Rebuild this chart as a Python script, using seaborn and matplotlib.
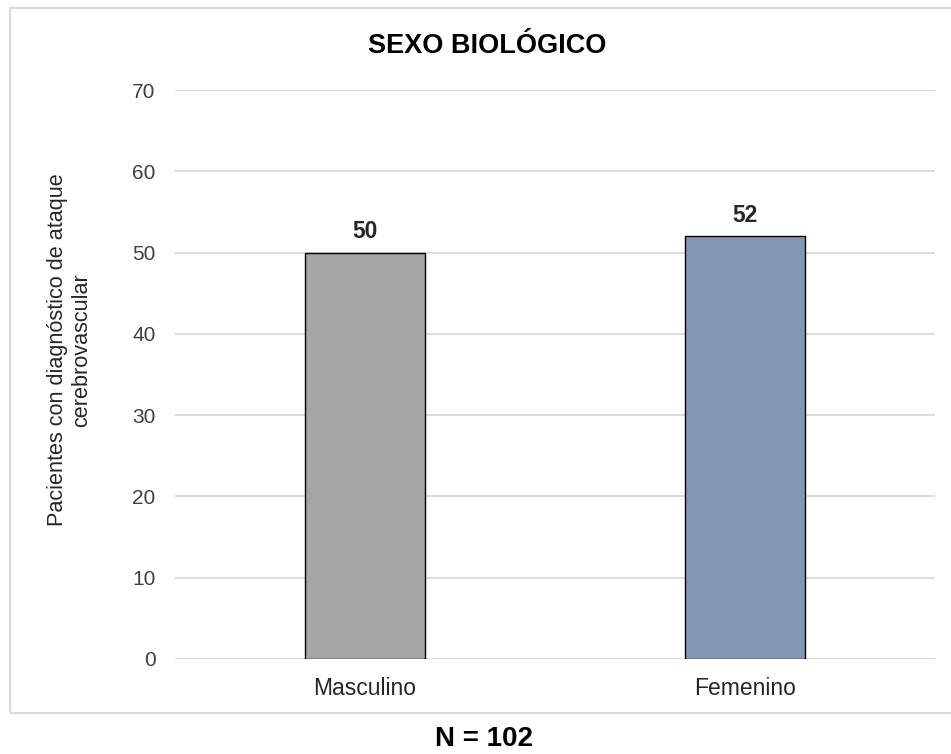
import matplotlib
matplotlib.use("Agg")
import matplotlib.pyplot as plt
from matplotlib.patches import Rectangle
import seaborn as sns
import pandas as pd

# Data
categories = ["Masculino", "Femenino"]
patients = [50, 52]
bar_colors = ["#A5A5A5", "#8497B0"]
y_ticks = [0, 10, 20, 30, 40, 50, 60, 70]
title = "SEXO BIOLÓGICO"
y_label = "Pacientes con diagnóstico de ataque\ncerebrovascular"
footer = "N = 102"

sns.set_theme(style="white")
plt.rcParams["font.family"] = ["Liberation Sans", "DejaVu Sans"]

W, H = 951, 754
fig = plt.figure(figsize=(W / 100, H / 100), dpi=100)
fig.patch.set_facecolor("white")

# chart frame
fig.add_artist(Rectangle((10 / W, 1 - 713 / H), 1.2, (713 - 8) / H,
                         transform=fig.transFigure, fill=False,
                         edgecolor="#D9D9D9", linewidth=1.5, zorder=0))

ax = fig.add_axes([175 / W, 1 - 659 / H, (935 - 175) / W, (659 - 90) / H])

df = pd.DataFrame({"sexo": categories, "n": patients})
sns.barplot(data=df, x="sexo", y="n", hue="sexo", palette=bar_colors,
            saturation=1, width=0.316, edgecolor="black", linewidth=1.0,
            legend=False, ax=ax, zorder=3)

ax.set_ylim(0, 70)
ax.set_yticks(y_ticks)
ax.set_xlim(-0.5, 1.5)
ax.yaxis.grid(True, color="#D9D9D9", linewidth=1.3, zorder=0)
ax.xaxis.grid(False)
ax.set_axisbelow(True)
for s in ["top", "right", "left", "bottom"]:
    ax.spines[s].set_visible(False)
ax.tick_params(axis="y", length=0, pad=14, labelsize=15, labelcolor="#404040")
ax.tick_params(axis="x", length=0, pad=13, labelsize=16.5, labelcolor="#262626")
ax.set_xlabel("")
ax.set_ylabel("")

for container in ax.containers:
    ax.bar_label(container, fmt="%d", padding=7, fontsize=16.5,
                 fontweight="bold", color="#262626")

fig.text(487 / W, 1 - 46 / H, title, ha="center", va="center",
         fontsize=19.5, fontweight="bold", color="#000000")
fig.text(70 / W, 1 - 350 / H, y_label, ha="center", va="center",
         rotation=90, multialignment="center", fontsize=15.6, color="#262626")
fig.text(484 / W, 1 - 739 / H, footer, ha="center", va="center",
         fontsize=20, fontweight="bold", color="#000000")

fig.savefig("out.png", dpi=100, facecolor="white")
